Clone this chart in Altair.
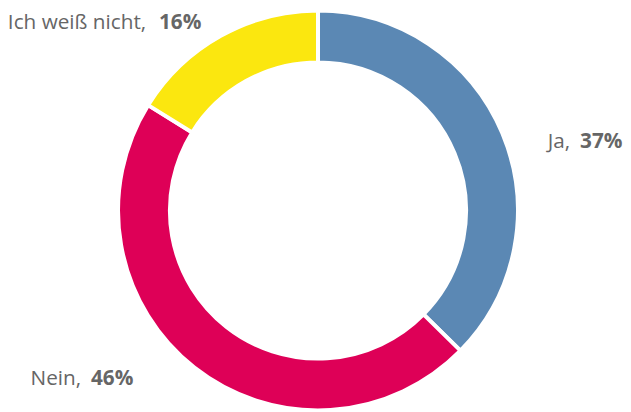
import math
import altair as alt
import pandas as pd

categories = ["Ja", "Nein", "Ich weiß nicht"]
values = [37, 46, 16]
colors = ["#5b88b4", "#de0057", "#fbe70f"]

df = pd.DataFrame({"cat": categories, "value": values, "order": list(range(len(categories)))})
df["name"] = df["cat"] + ","
df["pct"] = df["value"].astype(str) + "%"
total = sum(values)

CX, CY = 314, 202.5
FONT = "Open Sans"
GREY = "#666666"

base = alt.Chart(df)

arc = base.mark_arc(outerRadius=202.5, innerRadius=150, stroke="white", strokeWidth=4).encode(
    theta=alt.Theta("value:Q", stack=True),
    color=alt.Color("cat:N", scale=alt.Scale(domain=categories, range=colors), legend=None),
    order=alt.Order("order:Q"),
    x=alt.value(CX),
    y=alt.value(CY),
)

lab = base.transform_window(
    cum="sum(value)", sort=[alt.SortField("order")]
).transform_calculate(mid="datum.cum - datum.value / 2")

# label offsets (name right edge dx, percent left edge dx, dy)
offsets = {
    "Ja": (43.4, 53.4, 25.4),
    "Nein": (-97.8, -87.8, -4.3),
    "Ich weiß nicht": (-62.2, -49.2, 16.9),
}

layers = [arc]
for cat in categories:
    dxn, dxp, dy = offsets[cat]
    sub = lab.transform_filter(alt.datum.cat == cat)
    enc = dict(
        theta=alt.Theta("mid:Q", scale=alt.Scale(domain=[0, total], range=[0, 2 * math.pi])),
        radius=alt.value(230),
        x=alt.value(CX),
        y=alt.value(CY),
    )
    name = sub.mark_text(
        align="right", baseline="alphabetic", font=FONT, fontSize=21, color=GREY, dx=dxn, dy=dy
    ).encode(text="name:N", **enc)
    pct = sub.mark_text(
        align="left", baseline="alphabetic", font=FONT, fontSize=21, fontWeight="bold",
        color=GREY, dx=dxp, dy=dy
    ).encode(text="pct:N", **enc)
    layers += [name, pct]

chart = alt.layer(*layers).resolve_scale(theta="independent").properties(
    width=623, height=403, padding=0, autosize=alt.AutoSizeParams(type="none")
).configure_view(stroke=None)

chart.save("out.html", embed_options={"renderer": "svg", "actions": False})
